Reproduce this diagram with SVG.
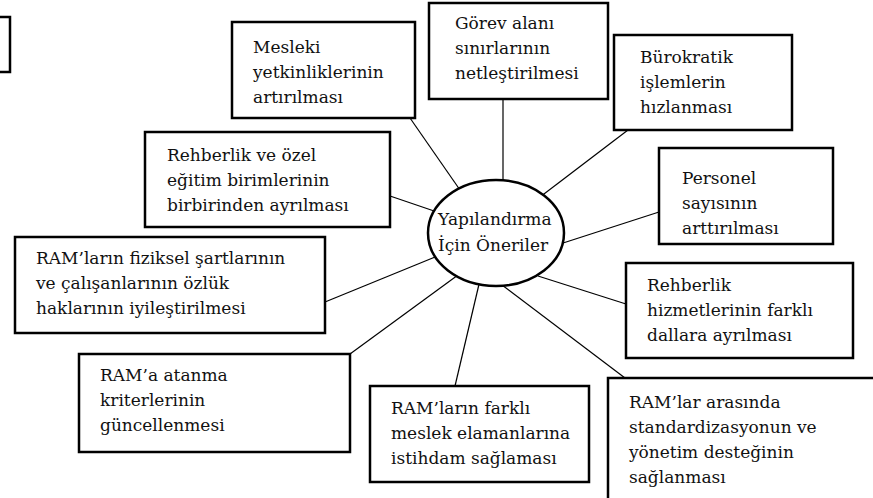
<svg xmlns="http://www.w3.org/2000/svg" width="873" height="498" viewBox="0 0 873 498">
<style>
.box{fill:#fff;stroke:#000;stroke-width:2.5}
.ln{stroke:#000;stroke-width:1.2;fill:none}
.t{font-family:'DejaVu Serif',serif;font-size:17px;fill:#111}
</style>
<rect width="873" height="498" fill="#fff"/>
<g id="connectors">
<line class="ln" x1="410" y1="118" x2="460" y2="190"/>
<line class="ln" x1="503" y1="99" x2="503" y2="185"/>
<line class="ln" x1="628" y1="130" x2="540" y2="197"/>
<line class="ln" x1="659" y1="212" x2="560" y2="244"/>
<line class="ln" x1="390" y1="196" x2="440" y2="213"/>
<line class="ln" x1="325" y1="302" x2="440" y2="255"/>
<line class="ln" x1="350" y1="354" x2="458" y2="275"/>
<line class="ln" x1="455" y1="386" x2="480" y2="280"/>
<line class="ln" x1="538" y1="276" x2="626" y2="304"/>
<line class="ln" x1="498" y1="282" x2="625" y2="378"/>
</g>
<g id="partial"><rect class="box" x="-10" y="17" width="20" height="55"/></g>
<g class="t">
<g id="n-mesleki"><rect class="box" x="232" y="22" width="183" height="96"/>
<text x="253" y="53">Mesleki</text><text x="253" y="78">yetkinliklerinin</text><text x="253" y="103">artırılması</text></g>
<g id="n-gorev"><rect class="box" x="429" y="3" width="179" height="96"/>
<text x="455" y="29">Görev alanı</text><text x="455" y="54">sınırlarının</text><text x="455" y="79">netleştirilmesi</text></g>
<g id="n-burokratik"><rect class="box" x="614" y="35" width="178" height="95"/>
<text x="640" y="63">Bürokratik</text><text x="640" y="88">işlemlerin</text><text x="640" y="113">hızlanması</text></g>
<g id="n-personel"><rect class="box" x="659" y="148" width="174" height="96"/>
<text x="682" y="184">Personel</text><text x="682" y="209">sayısının</text><text x="682" y="234">arttırılması</text></g>
<g id="n-rehberlik-ozel"><rect class="box" x="145" y="132" width="245" height="95"/>
<text x="167" y="161">Rehberlik ve özel</text><text x="167" y="186">eğitim birimlerinin</text><text x="167" y="211">birbirinden ayrılması</text></g>
<g id="n-ram-fiziksel"><rect class="box" x="15" y="237" width="310" height="96"/>
<text x="36" y="264">RAM’ların fiziksel şartlarının</text><text x="36" y="289">ve çalışanlarının özlük</text><text x="36" y="314">haklarının iyileştirilmesi</text></g>
<g id="n-ram-atanma"><rect class="box" x="79" y="354" width="271" height="98"/>
<text x="100" y="381">RAM’a atanma</text><text x="100" y="406">kriterlerinin</text><text x="100" y="431">güncellenmesi</text></g>
<g id="n-ram-farkli"><rect class="box" x="370" y="386" width="219" height="96"/>
<text x="391" y="414">RAM’ların farklı</text><text x="391" y="439">meslek elamanlarına</text><text x="391" y="464">istihdam sağlaması</text></g>
<g id="n-rehberlik-hiz"><rect class="box" x="626" y="263" width="227" height="95"/>
<text x="647" y="291">Rehberlik</text><text x="647" y="316">hizmetlerinin farklı</text><text x="647" y="341">dallara ayrılması</text></g>
<g id="n-ram-arasi"><rect class="box" x="608" y="378" width="280" height="140"/>
<text x="629" y="408">RAM’lar arasında</text><text x="629" y="433">standardizasyonun ve</text><text x="629" y="458">yönetim desteğinin</text><text x="629" y="483">sağlanması</text></g>
<g id="center"><ellipse class="box" cx="496" cy="233" rx="68" ry="53"/>
<text x="438" y="225">Yapılandırma</text><text x="438" y="251">İçin Öneriler</text></g>
</g>
</svg>
